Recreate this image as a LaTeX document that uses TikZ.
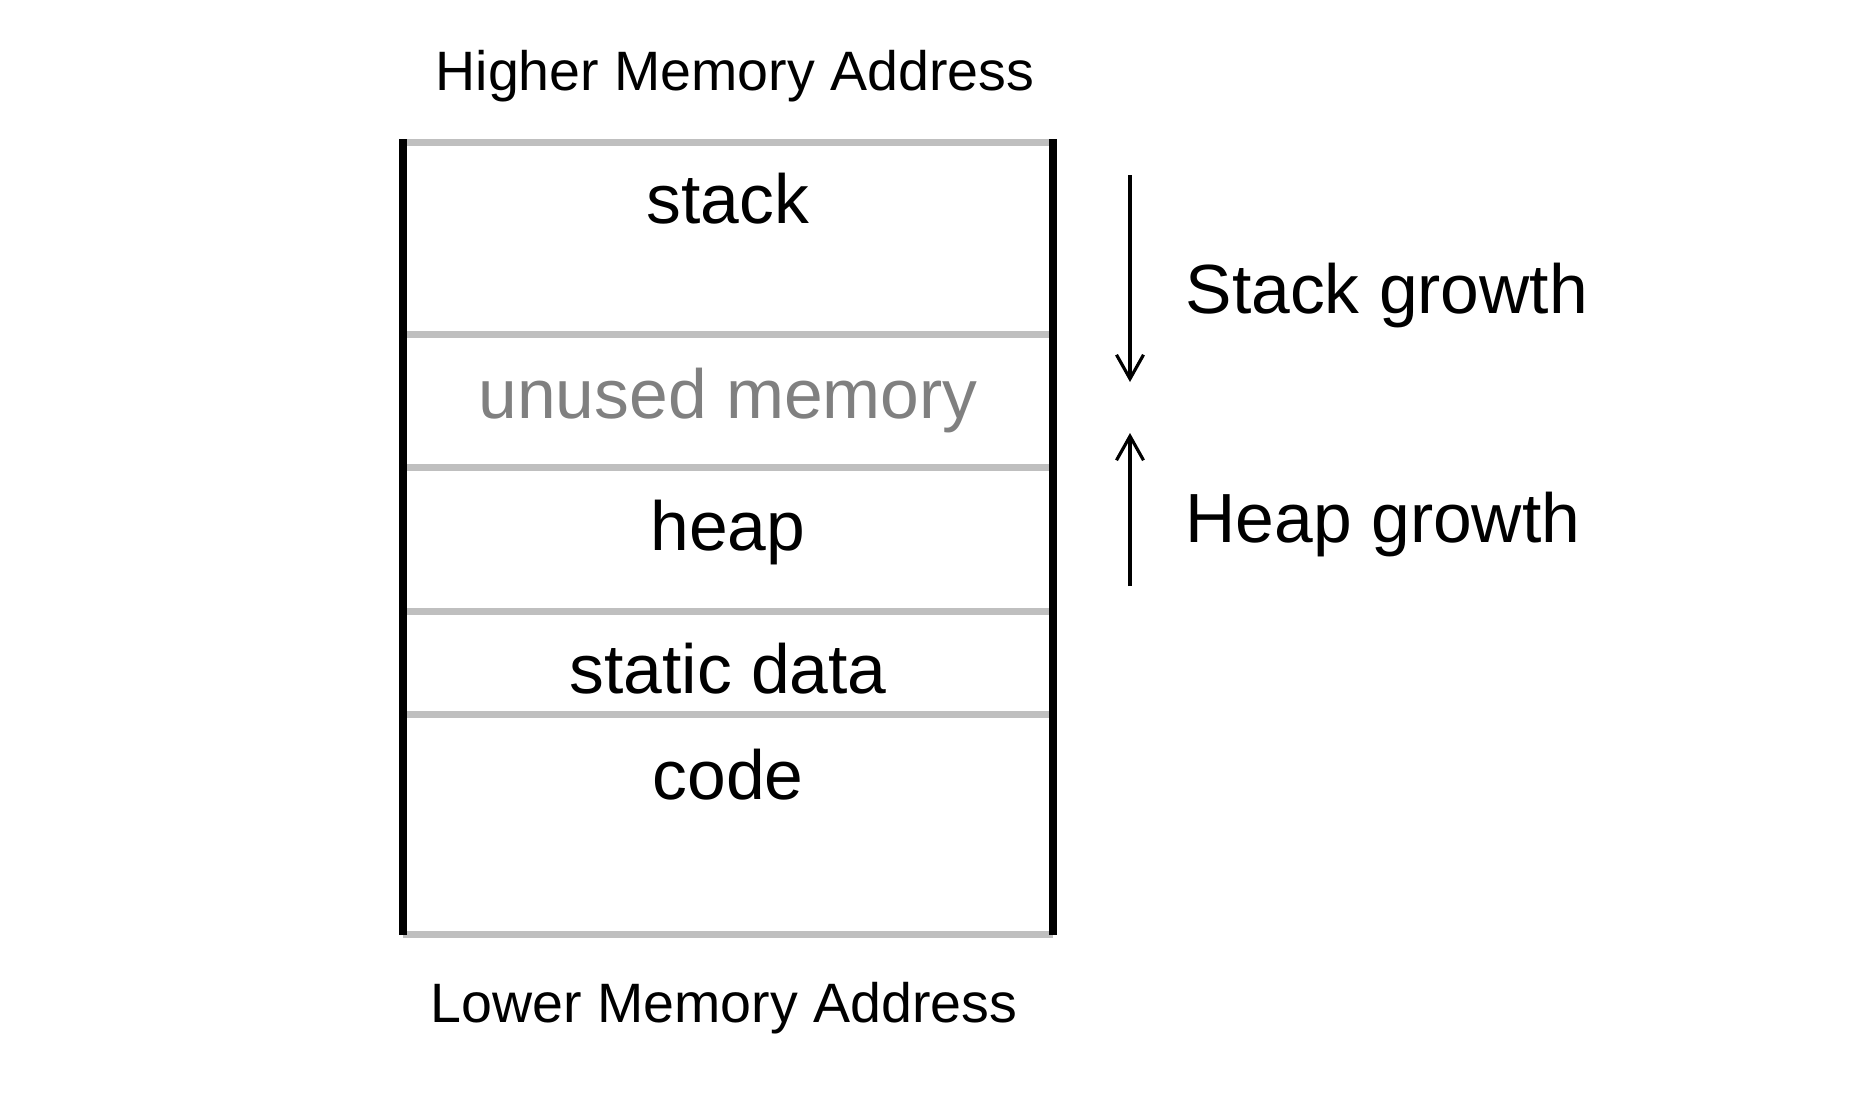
\documentclass[tikz,border=0pt]{standalone}
\usepackage{fontspec}
\setmainfont{Liberation Sans}
\usetikzlibrary{arrows.meta}
\definecolor{sepgray}{HTML}{BFBFBF}
\definecolor{unusedgray}{HTML}{808080}
\begin{document}
\begin{tikzpicture}[
    seg/.style={draw=sepgray,line width=1.9pt},
    wall/.style={draw=black,line width=2pt},
    growarrow/.style={-{Straight Barb[length=2.4mm,width=2.7mm]},line width=0.9pt},
    big/.style={font=\fontsize{19.8}{24}\selectfont,anchor=base,inner sep=0pt},
    addr/.style={font=\fontsize{15.8}{19}\selectfont,anchor=base,inner sep=0pt}]
    \useasboundingbox (0,0) rectangle (18.76,10.93);
    % segment borders
    \foreach \y in {9.505,7.582,6.258,4.814,3.788,1.585}
        \draw[seg](4.03,\y)--(10.53,\y);
    \draw[wall](4.03,9.54)--(4.03,1.58);
    \draw[wall](10.53,9.54)--(10.53,1.58);
    % labels
    \node[addr] (higher) at (7.35,10.02) {Higher Memory Address};
    \node[big] (stack) at (7.28,8.70) {stack};
    \node[big,text=unusedgray] (unused) at (7.28,6.75) {unused memory};
    \node[big] (heap) at (7.28,5.43) {heap};
    \node[big] (static) at (7.28,4.00) {static data};
    \node[big] (code) at (7.28,2.94) {code};
    \node[addr] (lower) at (7.24,0.71) {Lower Memory Address};
    % growth directions
    \coordinate (stackstart) at (11.30,9.18);
    \coordinate (stackend) at (11.30,7.11);
    \coordinate (heapstart) at (11.30,5.07);
    \coordinate (heapend) at (11.30,6.60);
    \draw[growarrow](stackstart)--(stackend);
    \draw[growarrow](heapstart)--(heapend);
    \node[big,anchor=base west] (stackgrowth) at (11.85,7.80) {Stack growth};
    \node[big,anchor=base west] (heapgrowth) at (11.85,5.51) {Heap growth};
\end{tikzpicture}
\end{document}
